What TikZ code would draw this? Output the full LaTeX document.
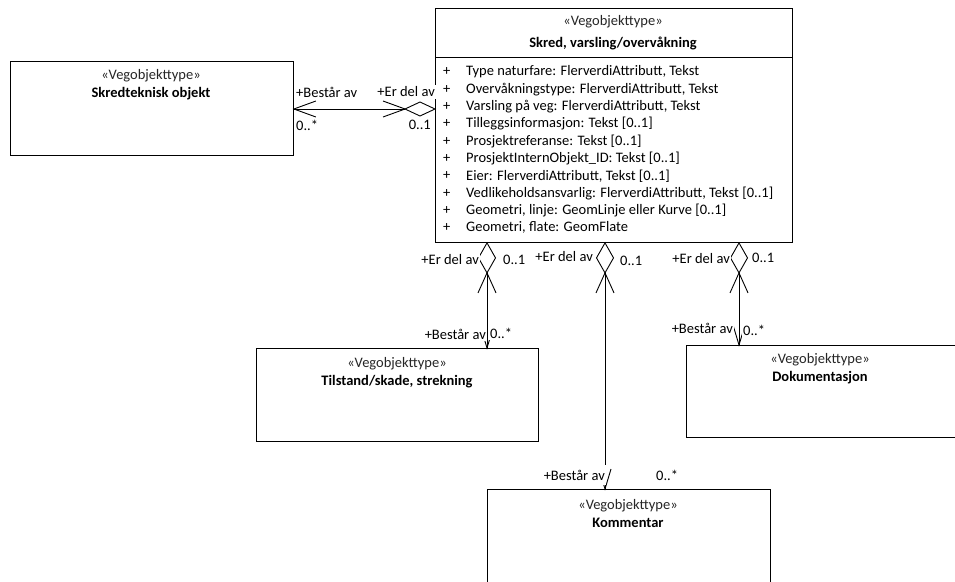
\documentclass[tikz,border=0pt]{standalone}
\usepackage{fontspec}
\setmainfont{Carlito}
\usetikzlibrary{calc}
\begin{document}
\begin{tikzpicture}[x=1pt,y=-1pt,
  umlbox/.style={draw, line width=0.9pt, inner sep=0pt, anchor=north west},
  txt/.style={inner sep=0pt, font=\fontsize{14.5}{16}\selectfont},
  stereo/.style={txt, text=black!85},
  cname/.style={txt, font=\fontsize{14.5}{16}\selectfont\bfseries},
  attr/.style={txt, anchor=west},
  lbl/.style={txt, fill=white, inner xsep=1pt, inner ysep=2pt},
  conn/.style={line width=0.9pt, line join=miter},
]
\clip (0,0) rectangle (955,581);
\fill[white] (0,0) rectangle (955,581);

% ---------- boxes ----------
\node[umlbox, minimum width=357pt, minimum height=234pt] (main) at (435,8) {};
\draw[line width=0.9pt] ([yshift=-49pt]main.north west) -- ([yshift=-49pt]main.north east);
\node[stereo] (mainS) at (613,22) {«Vegobjekttype»};
\node[cname] (mainN) at (613,43) {Skred, varsling/overvåkning};

\foreach \t [count=\i from 0] in {
  {Type naturfare: FlerverdiAttributt, Tekst},
  {Overvåkningstype: FlerverdiAttributt, Tekst},
  {Varsling på veg: FlerverdiAttributt, Tekst},
  {Tilleggsinformasjon: Tekst [0..1]},
  {Prosjektreferanse: Tekst [0..1]},
  {ProsjektInternObjekt\_ID: Tekst [0..1]},
  {Eier: FlerverdiAttributt, Tekst [0..1]},
  {Vedlikeholdsansvarlig: FlerverdiAttributt, Tekst [0..1]},
  {Geometri, linje: GeomLinje eller Kurve [0..1]},
  {Geometri, flate: GeomFlate}}{
  \node[attr] (plus\i) at (443,72+17.3*\i) {+};
  \node[attr] (attr\i) at (466,72+17.3*\i) {\t};
}

\node[umlbox, minimum width=283pt, minimum height=94pt] (skt) at (10,61) {};
\node[stereo] (sktS) at (151,76) {«Vegobjekttype»};
\node[cname] (sktN) at (151,94) {Skredteknisk objekt};

\node[umlbox, minimum width=282pt, minimum height=93pt] (tilst) at (256,348) {};
\node[stereo] (tilstS) at (397,364) {«Vegobjekttype»};
\node[cname] (tilstN) at (397,382) {Tilstand/skade, strekning};

\node[umlbox, minimum width=290pt, minimum height=92pt] (dok) at (686,345) {};
\node[stereo] (dokS) at (820,360) {«Vegobjekttype»};
\node[cname] (dokN) at (820,378) {Dokumentasjon};

\node[umlbox, minimum width=283pt, minimum height=120pt] (komm) at (487,489) {};
\node[stereo] (kommS) at (628,506) {«Vegobjekttype»};
\node[cname] (kommN) at (628,523) {Kommentar};

% ---------- connector end points ----------
\coordinate (hL) at (skt.east |- 0,109);
\coordinate (hM) at (main.west |- 0,109);
\coordinate (tA) at (main.south -| 487,0);
\coordinate (bA) at (tilst.north -| 487,0);
\coordinate (tB) at (main.south -| 605,0);
\coordinate (bB) at (komm.north -| 605,0);
\coordinate (tC) at (main.south -| 739,0);
\coordinate (bC) at (dok.north -| 739,0);

% horizontal association
\draw[conn] (hM) -- ++(-15,-7) -- ++(-15,7) -- ++(15,7) -- cycle;
\draw[conn] ($(hM)+(-52,-8)$) -- ($(hM)+(-30,0)$) -- ($(hM)+(-52,8)$);
\draw[conn] ($(hM)+(-30,0)$) -- (hL);
\draw[conn] ($(hL)+(22,-8)$) -- (hL) -- ($(hL)+(22,8)$);

% vertical associations
\foreach \a/\b in {tA/bA, tB/bB, tC/bC}{
  \draw[conn] (\a) -- ++(-8.5,15) -- ++(8.5,15) -- ++(8.5,-15) -- cycle;
  \draw[conn] ($(\a)+(-9,50)$) -- ($(\a)+(0,30)$) -- ($(\a)+(9,50)$);
  \draw[conn] ($(\a)+(0,30)$) -- (\b);
  \draw[conn] ($(\b)+(-6,-20)$) -- (\b) -- ($(\b)+(6,-20)$);
}

% ---------- role / multiplicity labels ----------
\node[lbl, anchor=west] (l1) at (295,92) {+Består av};
\node[lbl, anchor=east] (l2) at (436,92) {+Er del av};
\node[lbl, anchor=west] (l3) at (295,125) {0..*};
\node[lbl, anchor=east] (l4) at (432,125) {0..1};

\node[lbl, anchor=east] (l5) at (480,260) {+Er del av};
\node[lbl, anchor=west] (l6) at (502,260) {0..1};
\node[lbl, anchor=east] (l7) at (487,334) {+Består av};
\node[lbl, anchor=west] (l8) at (489,333) {0..*};

\node[lbl, anchor=east] (l9) at (594,257) {+Er del av};
\node[lbl, anchor=west] (l10) at (619,261) {0..1};
\node[lbl, anchor=east, inner ysep=5pt] (l11) at (606,475) {+Består av};
\node[lbl, anchor=west] (l12) at (655,475) {0..*};

\node[lbl, anchor=east] (l13) at (731,259) {+Er del av};
\node[lbl, anchor=west] (l14) at (751,258) {0..1};
\node[lbl, anchor=east] (l15) at (734,328) {+Består av};
\node[lbl, anchor=west] (l16) at (742,330) {0..*};
\end{tikzpicture}
\end{document}
